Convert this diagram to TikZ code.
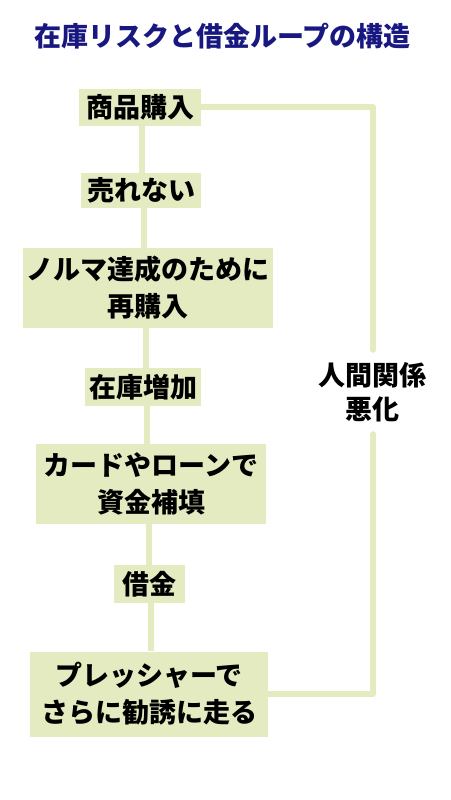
\documentclass[tikz,border=0pt]{standalone}
\usepackage{fontspec}
\setmainfont{Noto Sans CJK JP}
\usetikzlibrary{backgrounds}
\definecolor{boxgreen}{RGB}{228,235,192}
\definecolor{titleblue}{RGB}{24,24,128}
\begin{document}
\begin{tikzpicture}[
		x=1pt, y=-1pt,
		box/.style={fill=boxgreen, inner sep=0pt, align=center, font=\fontsize{27}{37}\selectfont\bfseries},
		link/.style={draw=boxgreen, line width=6pt},
		loopline/.style={draw=boxgreen, line width=6pt, line cap=round, line join=round},
	]
	\useasboundingbox (0,0) rectangle (450,800);

	\node[text=titleblue, font=\fontsize{27}{30}\selectfont\bfseries] (title) at (222.5,36) {在庫リスクと借金ループの構造};

	\node[box, minimum width=122pt, minimum height=37pt] (buy) at (140,107.3) {商品購入};
	\node[box, minimum width=120pt, minimum height=35pt] (unsold) at (141,190.3) {売れない};
	\node[box, minimum width=250pt, minimum height=80pt] (rebuy) at (148,288) {ノルマ達成のために\\再購入};
	\node[box, minimum width=116pt, minimum height=38pt] (stock) at (143,387) {在庫増加};
	\node[box, minimum width=230pt, minimum height=80pt] (card) at (151,484) {カードやローンで\\資金補填};
	\node[box, minimum width=71pt, minimum height=38pt] (debt) at (149.5,584) {借金};
	\node[box, minimum width=238pt, minimum height=85pt] (press) at (149,694) {プレッシャーで\\さらに勧誘に走る};

	\node[align=center, inner sep=0pt, minimum height=84pt, font=\fontsize{27}{34}\selectfont\bfseries] (rel) at (372,392) {人間関係\\悪化};

	\begin{scope}[on background layer]
		\draw[link] ([xshift=2pt]buy.south) -- ([xshift=2pt]buy.south |- unsold.north);
		\draw[link] ([xshift=2.5pt]unsold.south) -- ([xshift=2.5pt]unsold.south |- rebuy.north);
		\draw[link] ([xshift=-2pt]rebuy.south) -- ([xshift=-2pt]rebuy.south |- stock.north);
		\draw[link] ([xshift=4pt]stock.south) -- ([xshift=4pt]stock.south |- card.north);
		\draw[link] ([xshift=-2pt]card.south) -- ([xshift=-2pt]card.south |- debt.north);
		\draw[link] ([xshift=1pt]debt.south) -- ([xshift=1pt]debt.south |- press.north);

		\draw[loopline] (buy.east) -- ([xshift=1pt]buy.east -| rel) -- ([xshift=1pt]rel.north);
		\draw[loopline] ([xshift=1pt]rel.south) -- ([xshift=1pt]press.east -| rel) -- (press.east);
	\end{scope}
\end{tikzpicture}
\end{document}
